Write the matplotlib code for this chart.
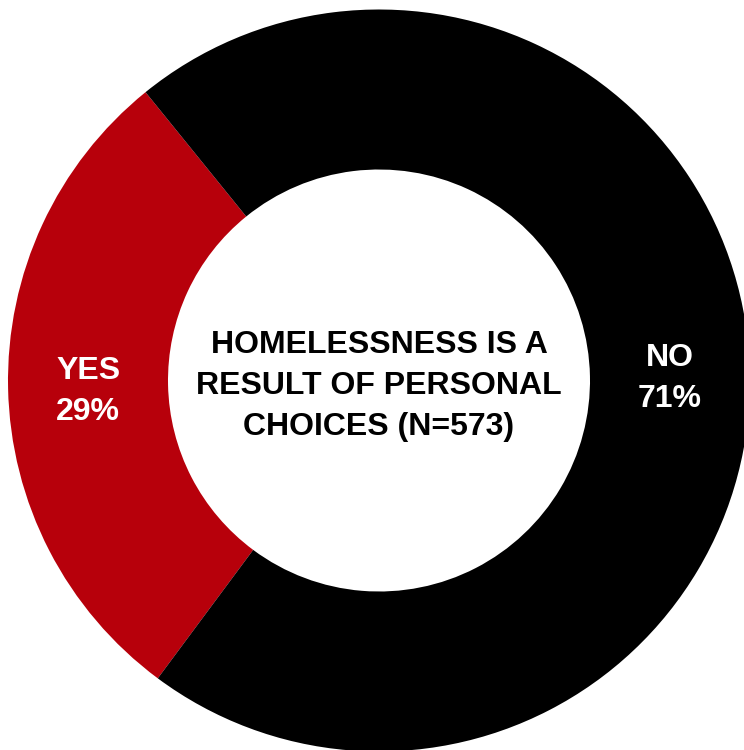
import matplotlib
matplotlib.use("Agg")
import matplotlib.pyplot as plt
import numpy as np

# Survey answers
categories = ["YES", "NO"]
shares = [29, 71]
title_lines = ["HOMELESSNESS IS A", "RESULT OF PERSONAL", "CHOICES (N=573)"]

colors = ["#B7000B", "#000000"]
font = ["Liberation Sans", "DejaVu Sans"]

W, H = 744, 750
fig = plt.figure(figsize=(W / 100, H / 100), dpi=100)
ax = fig.add_axes([0, 0, 1, 1])

cx, cy = 379, H - 380.5
r_out, ring = 371, 160

wedges, _ = ax.pie(
    shares,
    radius=r_out,
    center=(cx, cy),
    startangle=129,
    counterclock=True,
    colors=colors,
    wedgeprops=dict(width=ring, linewidth=0),
)

ax.set_xlim(0, W)
ax.set_ylim(0, H)
ax.set_aspect("equal")
ax.axis("off")

# Category labels in the middle of each ring segment
r_lab = r_out - ring / 2
for w, cat, val in zip(wedges, categories, shares):
    ang = np.deg2rad((w.theta1 + w.theta2) / 2)
    x = cx + r_lab * np.cos(ang)
    y = cy + r_lab * np.sin(ang)
    ax.text(x, y + 8, cat, ha="center", va="baseline", color="white",
            fontsize=23, fontweight="bold", family=font)
    ax.text(x, y - 33, f"{val}%", ha="center", va="baseline", color="white",
            fontsize=23, fontweight="bold", family=font)

# Title inside the hole
baselines = [H - 353, H - 394, H - 435]
for line, yb in zip(title_lines, baselines):
    ax.text(cx, yb, line, ha="center", va="baseline", color="black",
            fontsize=23, fontweight="bold", family=font)

fig.savefig("out.png", dpi=100)
